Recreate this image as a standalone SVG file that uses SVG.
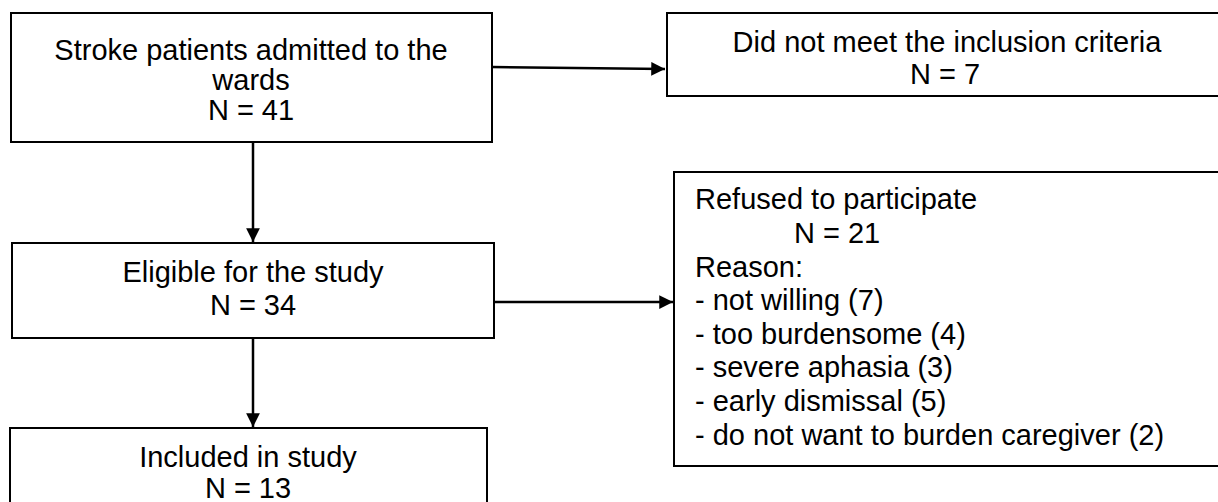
<svg xmlns="http://www.w3.org/2000/svg" width="1218" height="502" viewBox="0 0 1218 502">
<style>
.box{fill:#fff;stroke:#000;stroke-width:2}
.t{font-family:"Liberation Sans",Arial,sans-serif;font-size:29px;fill:#000}
.c{text-anchor:middle}
.ln{stroke:#000;stroke-width:2.5;fill:none}
</style>
<defs>
<marker id="ah" viewBox="0 0 10 10" refX="10" refY="5" markerWidth="6" markerHeight="5.5" markerUnits="strokeWidth" orient="auto">
<path d="M0,0 L10,5 L0,10 Z" fill="#000"/>
</marker>
</defs>
<rect width="1218" height="502" fill="#fff"/>
<g id="connectors">
<line class="ln" x1="492" y1="67" x2="665" y2="69" marker-end="url(#ah)"/>
<line class="ln" x1="253" y1="142" x2="253" y2="242" marker-end="url(#ah)"/>
<line class="ln" x1="494" y1="302" x2="673" y2="302" marker-end="url(#ah)"/>
<line class="ln" x1="253" y1="338" x2="253" y2="427" marker-end="url(#ah)"/>
</g>
<g id="admitted">
<rect class="box" x="11" y="13" width="481" height="129"/>
<text class="t c" x="251" y="60">Stroke patients admitted to the</text>
<text class="t c" x="251" y="90">wards</text>
<text class="t c" x="251" y="120">N = 41</text>
</g>
<g id="excluded">
<rect class="box" x="667" y="13" width="570" height="83"/>
<text class="t c" x="947" y="52">Did not meet the inclusion criteria</text>
<text class="t c" x="945" y="84">N = 7</text>
</g>
<g id="eligible">
<rect class="box" x="12" y="243" width="482" height="95"/>
<text class="t c" x="253" y="282">Eligible for the study</text>
<text class="t c" x="253" y="315">N = 34</text>
</g>
<g id="refused">
<rect class="box" x="674" y="172" width="570" height="294"/>
<text class="t" x="695" y="209">Refused to participate</text>
<text class="t" x="794" y="243">N = 21</text>
<text class="t" x="695" y="277">Reason:</text>
<text class="t" x="695" y="310">- not willing (7)</text>
<text class="t" x="695" y="344">- too burdensome (4)</text>
<text class="t" x="695" y="377">- severe aphasia (3)</text>
<text class="t" x="695" y="411">- early dismissal (5)</text>
<text class="t" x="695" y="445">- do not want to burden caregiver (2)</text>
</g>
<g id="included">
<rect class="box" x="10" y="428" width="477" height="100"/>
<text class="t c" x="248" y="467">Included in study</text>
<text class="t c" x="248" y="498">N = 13</text>
</g>
</svg>
